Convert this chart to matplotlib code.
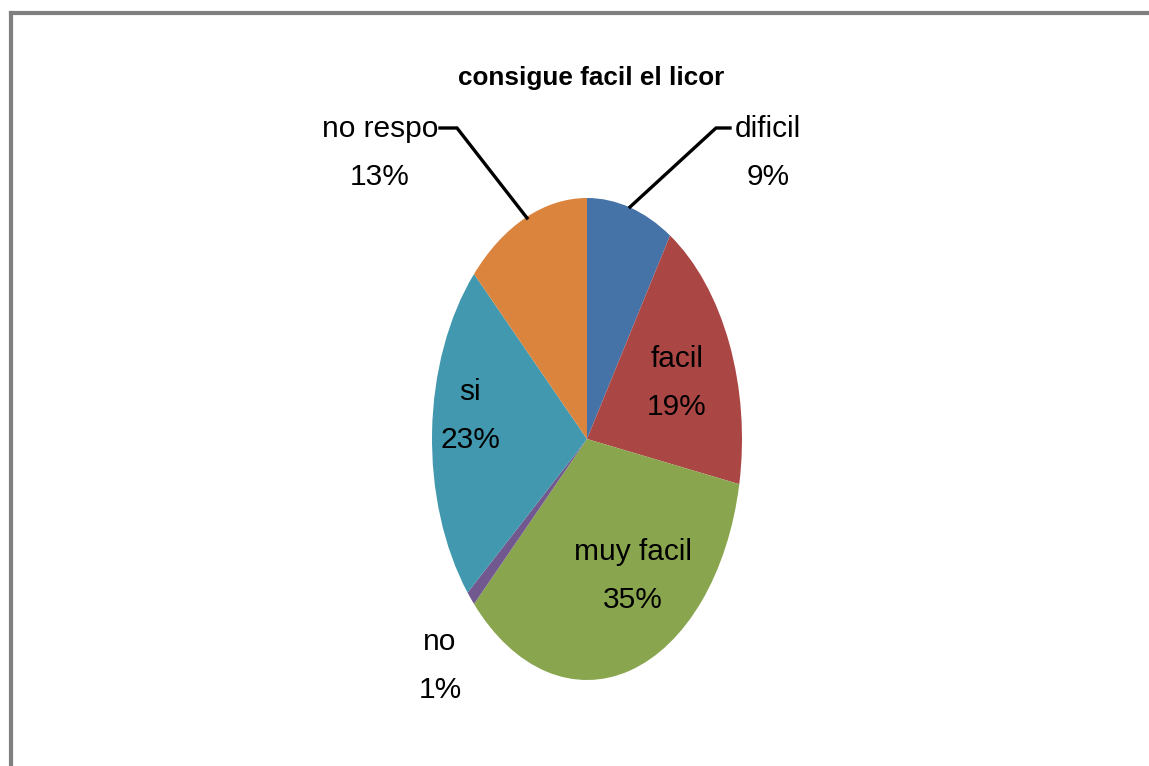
import matplotlib
matplotlib.use("Agg")
import matplotlib.pyplot as plt
from matplotlib.lines import Line2D

labels = ["dificil", "facil", "muy facil", "no", "si", "no respo"]
values = [9, 19, 35, 1, 23, 13]
colors = ["#4572A7", "#AA4643", "#89A54E", "#71588F", "#4198AF", "#DB843D"]
title = "consigue facil el licor"

font = "Liberation Sans"

W, H = 1149, 766
fig = plt.figure(figsize=(W / 100, H / 100), dpi=100)
fig.patch.set_facecolor("white")

# frame lines (top and left)
fig.add_artist(Line2D([11 / W, 1], [1 - 13 / H, 1 - 13 / H], transform=fig.transFigure,
                      color="#808080", lw=3))
fig.add_artist(Line2D([11 / W, 11 / W], [0, 1 - 13 / H], transform=fig.transFigure,
                      color="#808080", lw=3))

cx, cy, rx, ry = 587, 439, 155, 241
ax = fig.add_axes([(cx - rx) / W, (H - cy - ry) / H, 2 * rx / W, 2 * ry / H])
ax.pie(values, colors=colors, startangle=90, counterclock=False, radius=1,
       wedgeprops=dict(linewidth=0))
ax.set_aspect("auto")
ax.set_xlim(-1, 1)
ax.set_ylim(-1, 1)
ax.axis("off")

def d(px, py):
    return ((px - cx) / rx, (cy - py) / ry)

label_pos = {
    "dificil": (768, 153),
    "facil": (677, 383),
    "muy facil": (633, 576),
    "no": (440, 666),
    "si": (470, 416),
    "no respo": (380, 153),
}
fs = 21.5
for lab, val in zip(labels, values):
    x, y = d(*label_pos[lab])
    ax.text(x, y, f"{lab}\n{val}%", ha="center", va="center", fontsize=fs,
            family=font, color="black", linespacing=1.9, clip_on=False)

# leader lines
for pts in ([(440, 128), (457, 128), (527, 218)], [(730, 128), (716, 128), (630, 207)]):
    xs, ys = zip(*[d(*p) for p in pts])
    ax.plot(xs, ys, color="black", lw=2.4, clip_on=False, solid_joinstyle="miter")

fig.text(591 / W, 1 - 78 / H, title, ha="center", va="center", fontsize=18.8,
         fontweight="bold", family=font)

fig.savefig("out.png", dpi=100, facecolor="white")
